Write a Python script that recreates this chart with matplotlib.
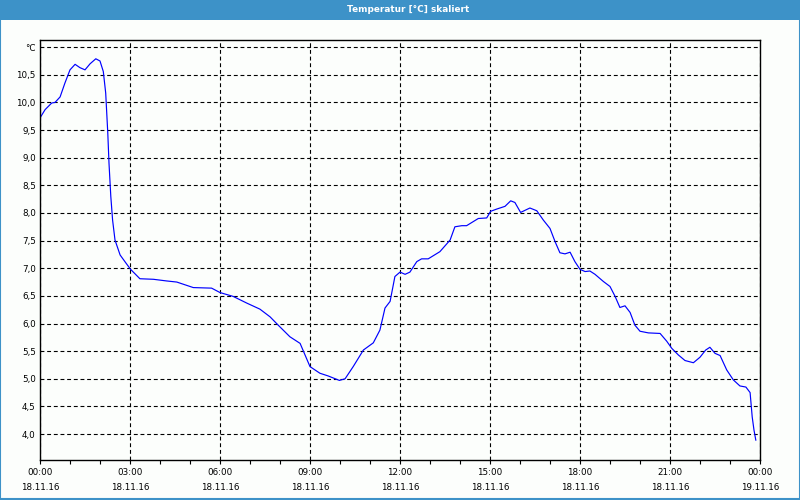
import matplotlib
matplotlib.use('Agg')
import matplotlib.pyplot as plt
from matplotlib.patches import Rectangle

# hours since 18.11.16 00:00, temperature in degC
hours = [0, 0.17, 0.39, 0.5, 0.67, 0.83, 1.0, 1.17, 1.33, 1.5,
         1.67, 1.86, 2.0, 2.11, 2.19, 2.26, 2.30, 2.36, 2.42, 2.5,
         2.67, 2.87, 3.02, 3.33, 3.78, 4.22, 4.56, 5.11, 5.72, 6.0,
         6.44, 6.89, 7.33, 7.67, 7.94, 8.33, 8.67, 9.0, 9.33, 9.61,
         9.98, 10.17, 10.44, 10.78, 11.11, 11.33, 11.5, 11.67, 11.83, 12.0,
         12.17, 12.33, 12.56, 12.72, 12.94, 13.33, 13.67, 13.83, 14.06, 14.22,
         14.61, 14.89, 15.02, 15.22, 15.5, 15.69, 15.83, 16.02, 16.33, 16.56,
         16.78, 17.0, 17.17, 17.33, 17.5, 17.67, 17.83, 18.0, 18.17, 18.33,
         18.5, 18.78, 19.0, 19.17, 19.33, 19.5, 19.67, 19.83, 20.0, 20.28,
         20.67, 20.89, 21.06, 21.28, 21.5, 21.78, 22.0, 22.19, 22.33, 22.5,
         22.67, 22.89, 23.11, 23.33, 23.53, 23.67, 23.74, 23.8, 23.86]
temps = [9.72, 9.87, 9.99, 10.0, 10.10, 10.35, 10.59, 10.69, 10.63, 10.59,
         10.70, 10.79, 10.75, 10.56, 10.17, 9.44, 8.90, 8.30, 7.87, 7.51,
         7.24, 7.09, 6.98, 6.81, 6.80, 6.77, 6.75, 6.65, 6.64, 6.56,
         6.49, 6.37, 6.26, 6.12, 5.97, 5.76, 5.64, 5.22, 5.10, 5.05,
         4.97, 5.00, 5.22, 5.52, 5.65, 5.88, 6.28, 6.40, 6.85, 6.93,
         6.89, 6.93, 7.12, 7.17, 7.17, 7.30, 7.51, 7.75, 7.77, 7.77,
         7.90, 7.91, 8.03, 8.07, 8.12, 8.22, 8.19, 8.01, 8.09, 8.04,
         7.87, 7.72, 7.48, 7.28, 7.26, 7.29, 7.12, 6.98, 6.94, 6.95,
         6.89, 6.76, 6.67, 6.49, 6.29, 6.32, 6.20, 5.97, 5.86, 5.83,
         5.82, 5.68, 5.55, 5.43, 5.33, 5.29, 5.39, 5.52, 5.57, 5.46,
         5.42, 5.16, 4.98, 4.87, 4.85, 4.75, 4.31, 4.07, 3.89]

xticks = [0, 3, 6, 9, 12, 15, 18, 21, 24]
xlabels = ['00:00\n18.11.16', '03:00\n18.11.16', '06:00\n18.11.16',
           '09:00\n18.11.16', '12:00\n18.11.16', '15:00\n18.11.16',
           '18:00\n18.11.16', '21:00\n18.11.16', '00:00\n19.11.16']
yticks = [4.0, 4.5, 5.0, 5.5, 6.0, 6.5, 7.0, 7.5, 8.0, 8.5, 9.0, 9.5, 10.0, 10.5, 11.0]
ylabels = ['4,0', '4,5', '5,0', '5,5', '6,0', '6,5', '7,0', '7,5', '8,0',
           '8,5', '9,0', '9,5', '10,0', '10,5', '°C']
title = 'Temperatur [°C] skaliert'

blue = '#3d92c8'
bg = '#fcfefc'

plt.rcParams['font.family'] = ['DejaVu Sans']
fig = plt.figure(figsize=(8, 5), dpi=100, facecolor=bg)

# title bar and window border
fig.patches.append(Rectangle((0, 1 - 20 / 500), 1, 20 / 500, transform=fig.transFigure,
                             facecolor=blue, edgecolor='none', zorder=0))
fig.patches.append(Rectangle((0.0006, 0.002), 0.9988, 0.99, transform=fig.transFigure,
                             facecolor='none', edgecolor=blue, lw=1.5, zorder=1))
fig.text(0.51, 1 - 9.5 / 500, title, color='white', fontsize=6.4, fontweight='bold',
         ha='center', va='center')

ax = fig.add_axes([40 / 800, 40 / 500, 720 / 800, 420 / 500])
ax.set_facecolor(bg)
ax.plot(hours, temps, color='#0000ff', lw=0.85)

ax.set_xlim(0, 24)
ax.set_ylim(3.53, 11.13)
ax.set_xticks(xticks)
ax.set_xticklabels(xlabels, fontsize=6.3, linespacing=1.85)
ax.set_xticks(range(0, 25), minor=True)
ax.set_yticks(yticks)
ax.set_yticklabels(ylabels, fontsize=6.3)
ax.tick_params(axis='x', which='both', direction='out', length=3, width=0.8, pad=3)
ax.tick_params(axis='y', length=0, pad=3)

ax.grid(True, which='major', color='black', lw=0.8, linestyle=(0, (3.5, 2.5)))
for s in ax.spines.values():
    s.set_linewidth(1.0)
    s.set_color('black')

fig.savefig('out.png', dpi=100, facecolor=bg)
